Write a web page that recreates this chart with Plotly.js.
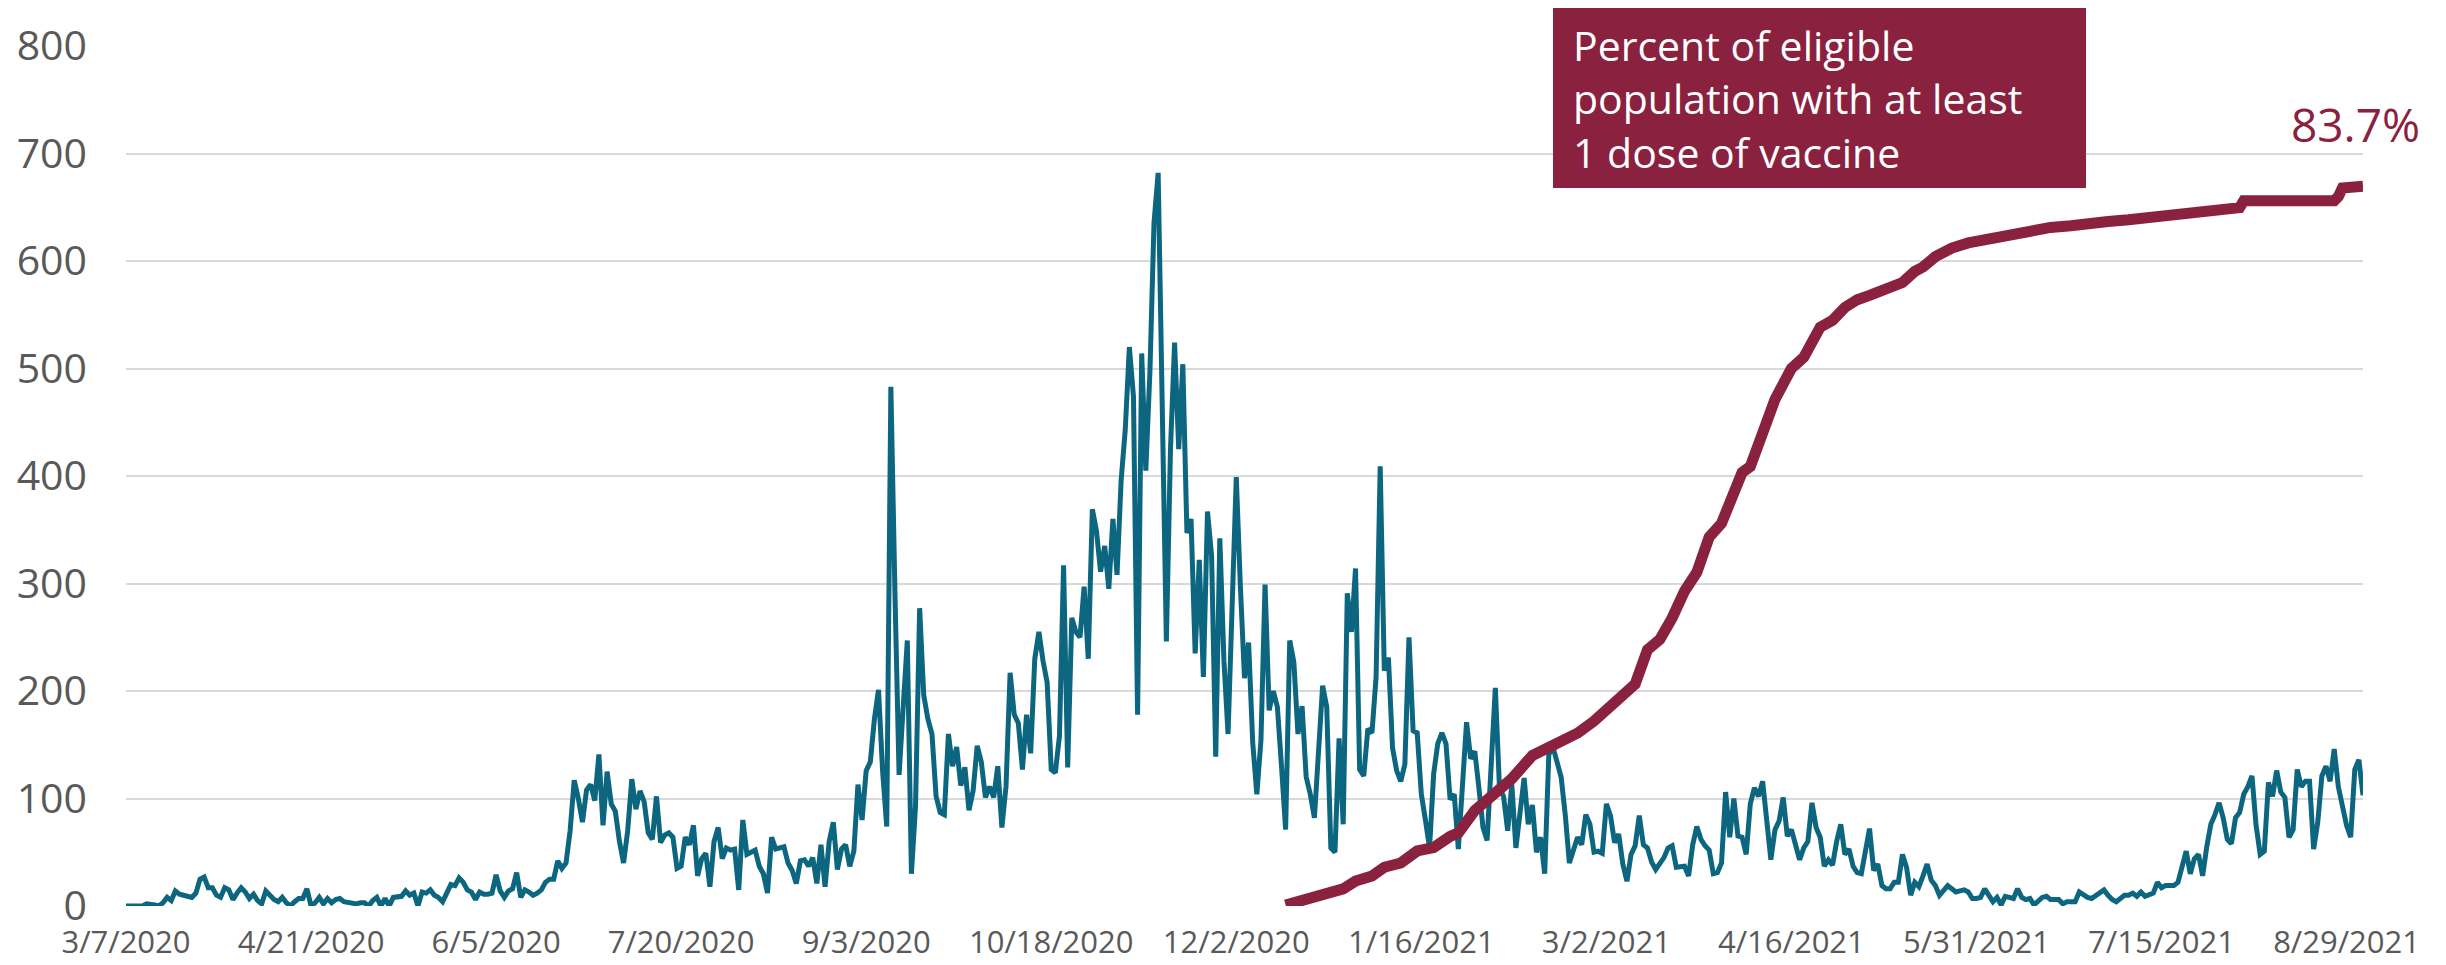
<!DOCTYPE html>
<html>
<head>
<meta charset="utf-8">
<script src="https://cdn.plot.ly/plotly-3.0.1.min.js"></script>
<style>
  html, body { margin: 0; padding: 0; background: #ffffff; }
  #chart { width: 2446px; height: 965px; }
</style>
</head>
<body>
<div id="chart"></div>
<script>
// ---- Data ----
const START_DATE = '2020-03-07';

// Daily new cases, one value per day starting at START_DATE (3/7/2020 .. 9/2/2021)
const dailyCases = [
  0,0,0,1,0,2,2,1,0,3,
  8,5,14,11,10,9,8,12,25,27,
  17,17,10,8,17,15,6,12,17,13,
  7,11,5,2,14,10,6,4,8,3,
  0,4,7,7,16,0,3,8,2,7,
  3,6,7,4,3,3,2,3,3,0,
  5,8,0,7,0,8,8,9,14,10,
  12,0,13,12,15,10,8,4,12,20,
  19,26,22,15,13,6,13,11,11,12,
  29,14,8,14,16,31,8,15,13,10,
  12,15,22,25,25,42,35,40,70,117,
  100,78,108,113,98,141,75,125,95,88,
  60,40,70,118,90,107,97,68,62,102,
  59,66,68,64,35,37,64,57,75,28,
  44,49,18,60,73,44,54,52,53,15,
  80,48,50,52,37,30,12,64,53,54,
  55,40,33,21,42,43,37,45,21,57,
  18,60,78,34,53,57,37,51,113,80,
  126,134,174,201,125,74,483,290,122,185,
  247,30,93,277,196,174,160,102,87,85,
  160,130,148,112,129,89,107,149,134,101,
  111,101,130,73,111,217,178,170,127,178,
  142,230,255,228,208,127,124,158,317,129,
  268,255,250,297,230,369,349,311,335,295,
  360,308,396,443,520,474,178,514,405,497,
  636,682,470,246,425,524,425,504,347,360,
  235,322,213,367,326,139,342,228,160,264,
  399,297,212,245,152,104,154,299,182,200,
  185,130,71,247,227,160,186,120,104,82,
  154,205,185,54,50,156,76,291,255,314,
  127,121,165,161,213,409,219,231,147,126,
  116,132,250,163,161,104,80,54,123,151,
  161,151,99,104,53,120,171,137,144,110,
  73,61,130,203,110,102,70,113,54,85,
  119,76,94,50,64,30,141,148,135,120,
  85,40,52,64,57,85,76,50,51,49,
  95,84,59,67,39,23,48,56,84,57,
  54,41,34,40,45,54,56,36,36,37,
  28,57,74,62,56,52,30,31,40,106,
  64,100,65,64,48,95,110,102,116,78,
  43,71,79,101,65,71,57,43,54,60,
  96,73,64,37,43,38,60,76,48,53,
  37,31,30,51,72,33,39,19,16,16,
  22,22,48,36,10,22,18,28,39,24,
  19,10,14,19,16,13,14,15,13,7,
  7,8,16,10,4,8,1,9,8,7,
  16,8,6,7,1,5,8,9,6,6,
  6,2,4,4,4,13,10,8,7,10,
  12,15,10,6,4,7,10,10,12,9,
  13,9,10,12,22,17,19,19,19,22,
  37,51,30,44,48,28,55,76,85,96,
  82,62,58,82,87,104,111,121,75,48,
  51,115,102,126,106,101,64,71,127,111,
  116,116,53,78,121,130,116,146,111,93,
  75,64,127,136,103
];

// Percent of eligible population with at least 1 dose of vaccine
const vaxDates = [
  '2020-12-14','2020-12-21','2020-12-24','2020-12-28','2020-12-31',
  '2021-01-04','2021-01-07','2021-01-11','2021-01-15','2021-01-19',
  '2021-01-23','2021-01-25','2021-01-29','2021-02-02','2021-02-07',
  '2021-02-12','2021-02-16','2021-02-20','2021-02-23','2021-02-27',
  '2021-03-02','2021-03-06','2021-03-09','2021-03-12','2021-03-15',
  '2021-03-18','2021-03-21','2021-03-24','2021-03-27','2021-03-30',
  '2021-04-02','2021-04-04','2021-04-06','2021-04-09','2021-04-12',
  '2021-04-16','2021-04-19','2021-04-23','2021-04-26','2021-04-29',
  '2021-05-02','2021-05-05','2021-05-08','2021-05-11','2021-05-13',
  '2021-05-16','2021-05-18','2021-05-21','2021-05-23','2021-05-25',
  '2021-05-29','2021-06-01','2021-06-05','2021-06-08','2021-06-13',
  '2021-06-18','2021-06-23','2021-06-27','2021-07-02','2021-07-07',
  '2021-07-11','2021-07-18','2021-07-23','2021-07-28','2021-08-02',
  '2021-08-03','2021-08-04','2021-08-26','2021-08-27','2021-08-28',
  '2021-09-02'
];
const vaxPct = [
  0.1, 1.0, 1.5, 2.0, 2.9,
  3.5, 4.5, 5.0, 6.4, 6.8,
  8.1, 8.5, 11.1, 12.8, 14.8,
  17.5, 18.5, 19.6, 20.1, 21.5,
  22.8, 24.8, 25.8, 29.8, 31.0,
  33.5, 36.6, 38.8, 42.9, 44.5,
  48.1, 50.4, 51.1, 55.0, 58.9,
  62.5, 63.8, 67.3, 68.1, 69.6,
  70.5, 71.0, 71.6, 72.0, 72.5,
  73.8, 74.3, 75.5, 76.1, 76.5,
  77.1, 77.4, 77.8, 78.1, 78.5,
  78.9, 79.1, 79.4, 79.6, 79.8,
  80.0, 80.3, 80.6, 80.9, 81.1,
  81.2, 82.0, 82.0, 82.5, 83.5,
  83.7
];

const tickDates = ['2020-03-07','2020-04-21','2020-06-05','2020-07-20','2020-09-03',
  '2020-10-18','2020-12-02','2021-01-16','2021-03-02','2021-04-16',
  '2021-05-31','2021-07-15','2021-08-29'];
const tickLabels = ['3/7/2020','4/21/2020','6/5/2020','7/20/2020','9/3/2020',
  '10/18/2020','12/2/2020','1/16/2021','3/2/2021','4/16/2021',
  '5/31/2021','7/15/2021','8/29/2021'];

const boxText = 'Percent of eligible<br>population with at least<br>1 dose of vaccine';
const endLabel = '83.7%';

// ---- Build daily dates ----
function addDays(iso, n) {
  const d = new Date(iso + 'T00:00:00Z');
  d.setUTCDate(d.getUTCDate() + n);
  return d.toISOString().slice(0, 10);
}
const caseDates = dailyCases.map((_, i) => addDays(START_DATE, i));

// ---- Styles ----
const TEAL = '#0D6680';
const MAROON = '#8A213F';
const GRID = '#D9D9D9';
const TXT = '#595959';
const FONT = 'Open Sans, Liberation Sans, sans-serif';

// plot-area pixel frame (for placing the decorations)
const W = 2446, H = 965;
const M = { l: 126, r: 83, t: 46, b: 59 };
const PW = W - M.l - M.r, PH = H - M.t - M.b;
const px = x => (x - M.l) / PW;
const py = y => (H - M.b - y) / PH;

const traces = [
  {
    x: caseDates, y: dailyCases, type: 'scatter', mode: 'lines',
    line: { color: TEAL, width: 5 }, hoverinfo: 'x+y', showlegend: false
  },
  {
    x: vaxDates, y: vaxPct, type: 'scatter', mode: 'lines', yaxis: 'y2',
    line: { color: MAROON, width: 11 }, hoverinfo: 'x+y', showlegend: false
  }
];

const layout = {
  width: W, height: H,
  margin: M,
  paper_bgcolor: '#ffffff', plot_bgcolor: '#ffffff',
  showlegend: false,
  font: { family: FONT, color: TXT },
  xaxis: {
    type: 'date',
    range: [START_DATE, '2021-09-02'],
    tickmode: 'array', tickvals: tickDates, ticktext: tickLabels,
    showgrid: false, zeroline: false, showline: false,
    ticks: '', ticklabelstandoff: 15,
    tickfont: { family: FONT, size: 31, color: TXT }
  },
  yaxis: {
    range: [0, 800], dtick: 100, tick0: 0,
    showgrid: true, gridcolor: GRID, gridwidth: 2,
    zeroline: false, showline: false, ticks: '',
    ticklabelstandoff: 38,
    tickfont: { family: FONT, size: 41, color: TXT }
  },
  yaxis2: {
    range: [0, 100], overlaying: 'y', visible: false, showgrid: false
  },
  shapes: [
    {
      type: 'rect', xref: 'paper', yref: 'paper', layer: 'above',
      x0: px(1553), x1: px(2086), y0: py(188), y1: py(8),
      fillcolor: MAROON, line: { width: 0 }
    }
  ],
  annotations: [
    {
      xref: 'paper', yref: 'paper', x: px(1571), y: py(99),
      xanchor: 'left', yanchor: 'middle', align: 'left', showarrow: false,
      text: boxText, font: { family: FONT, size: 41, color: '#ffffff' }
    },
    {
      xref: 'paper', yref: 'paper', x: px(2289), y: py(124),
      xanchor: 'left', yanchor: 'middle', align: 'left', showarrow: false,
      text: endLabel, font: { family: FONT, size: 46, color: MAROON }
    }
  ]
};

Plotly.newPlot('chart', traces, layout, { displayModeBar: false, staticPlot: true });
</script>
</body>
</html>
